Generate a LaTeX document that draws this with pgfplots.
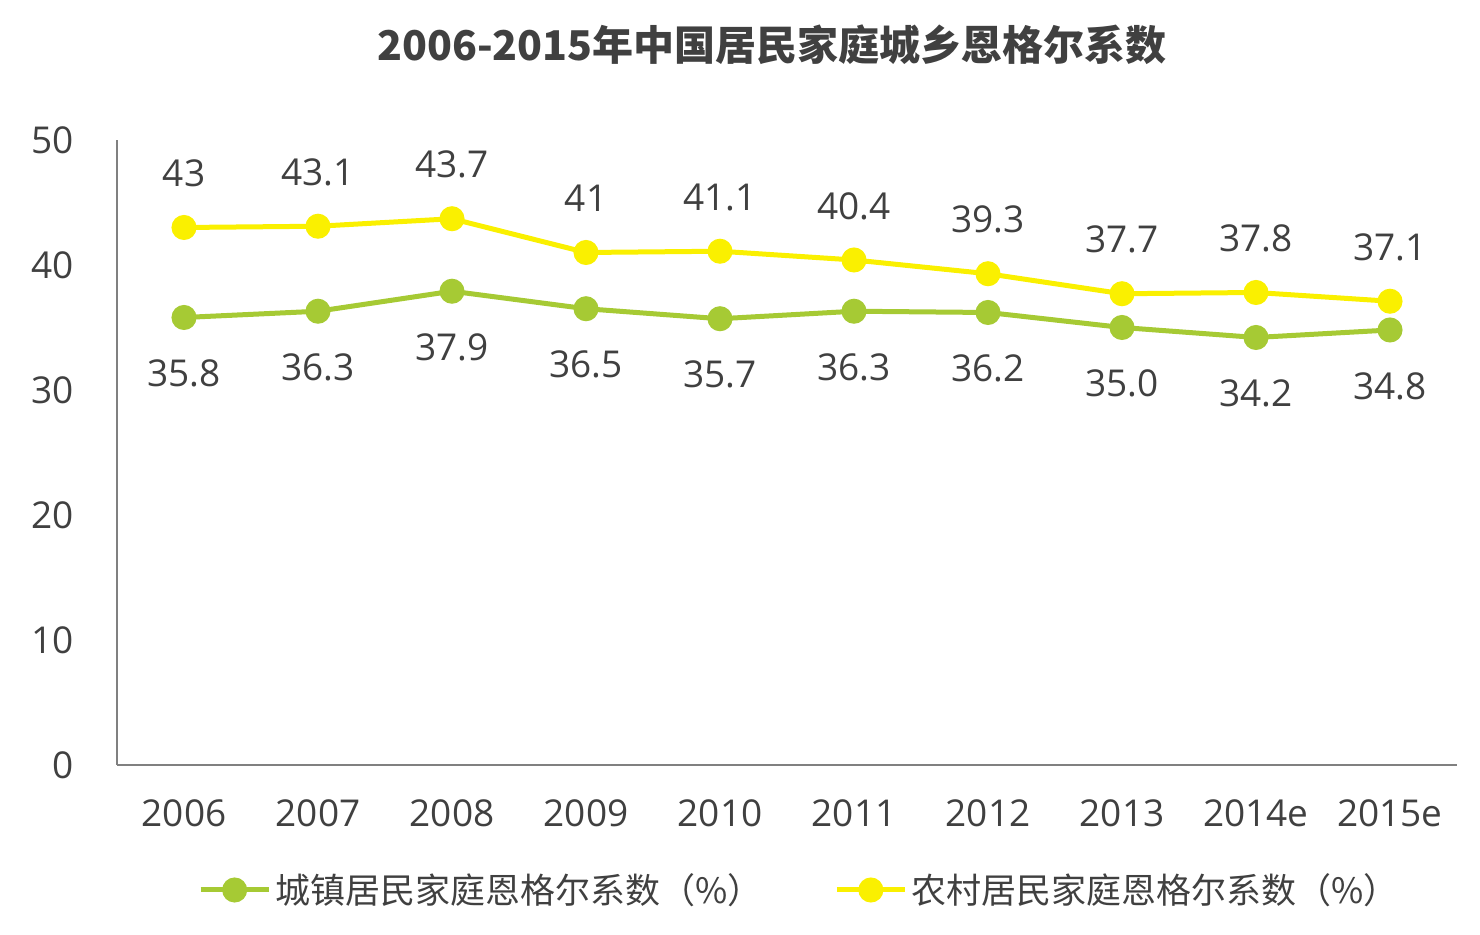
\documentclass[border=0pt]{standalone}
\usepackage{pgfplots}
\pgfplotsset{compat=1.18}
\usepackage{fontspec}
\setmainfont{Open Sans}
\newfontfamily\cjk{Noto Sans CJK SC}
\definecolor{urban}{RGB}{166,202,52}
\definecolor{rural}{RGB}{250,240,0}
\definecolor{txt}{RGB}{64,64,64}
\definecolor{axl}{RGB}{128,128,128}

\pgfplotstableread{
x y lab
0 35.8 35.8
1 36.3 36.3
2 37.9 37.9
3 36.5 36.5
4 35.7 35.7
5 36.3 36.3
6 36.2 36.2
7 35.0 35.0
8 34.2 34.2
9 34.8 34.8
}\urbantab
\pgfplotstableread{
x y lab
0 43.0 43
1 43.1 43.1
2 43.7 43.7
3 41.0 41
4 41.1 41.1
5 40.4 40.4
6 39.3 39.3
7 37.7 37.7
8 37.8 37.8
9 37.1 37.1
}\ruraltab

\begin{document}
\begin{tikzpicture}
\useasboundingbox (0,0) rectangle (740pt,467.5pt);
\node[font=\cjk\bfseries\fontsize{20.5}{24}\selectfont, text=txt] at (386pt,445pt) {2006-2015年中国居民家庭城乡恩格尔系数};
\begin{axis}[
  at={(58.5pt,85pt)}, anchor=south west,
  scale only axis, width=670pt, height=312.5pt,
  xmin=-0.5, xmax=9.5, ymin=0, ymax=50,
  axis x line=bottom, axis y line=left,
  axis line style={axl, line width=1pt, -},
  xtick={0,...,9},
  xticklabels={2006,2007,2008,2009,2010,2011,2012,2013,2014e,2015e},
  ytick={0,10,20,30,40,50},
  major tick length=0pt,
  /pgf/number format/assume math mode=true,
  tick label style={font=\fontsize{18.5}{22}\selectfont, text=txt},
  yticklabel style={xshift=-18pt},
  xticklabel style={yshift=-14pt},
  point meta=explicit symbolic,
  nodes near coords,
  every node near coord/.append style={font=\fontsize{18.5}{22}\selectfont, text=txt, anchor=center},
  legend columns=2,
  legend style={draw=none, fill=none, at={(0.51,-0.2)}, anchor=center,
    font=\cjk\fontsize{17.5}{21}\selectfont, text=txt,
    /tikz/every even column/.append style={column sep=34pt}},
  legend image code/.code={\draw[mark repeat=2,mark phase=2,#1] plot coordinates {(0pt,0pt) (17pt,0pt) (34pt,0pt)};},
  clip=false,
]
\addplot[urban, line width=2.5pt, mark=*, mark size=5pt, mark options={fill=urban, draw=urban},
  every node near coord/.append style={yshift=-28pt}]
  table[x=x, y=y, meta=lab] {\urbantab};
\addlegendentry{城镇居民家庭恩格尔系数（\%）}
\addplot[rural, line width=2.5pt, mark=*, mark size=5pt, mark options={fill=rural, draw=rural},
  every node near coord/.append style={yshift=27pt}]
  table[x=x, y=y, meta=lab] {\ruraltab};
\addlegendentry{农村居民家庭恩格尔系数（\%）}
\end{axis}
\end{tikzpicture}
\end{document}
